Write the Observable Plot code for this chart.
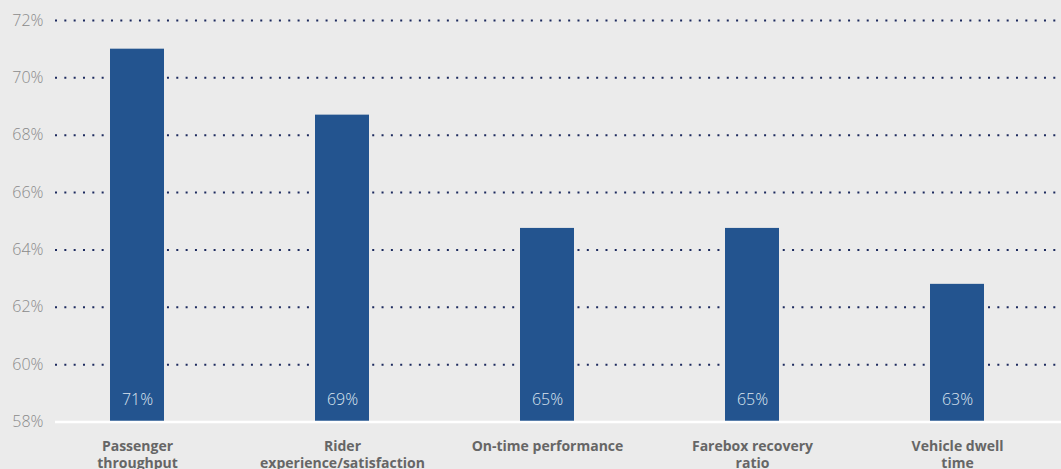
<!DOCTYPE html>
<html><head><meta charset="utf-8">
<script src="https://cdn.jsdelivr.net/npm/d3@7"></script>
<script src="https://cdn.jsdelivr.net/npm/@observablehq/plot@0.6"></script>
<style>body{margin:0;background:#ebebeb;overflow:hidden;}</style>
</head><body><div id="chart"></div>
<script>
const categories = ["Passenger\nthroughput", "Rider\nexperience/satisfaction", "On-time performance", "Farebox recovery\nratio", "Vehicle dwell\ntime"];
const values = [71, 68.7, 64.75, 64.75, 62.8];
const valueLabels = ["71%", "69%", "65%", "65%", "63%"];
const yTicks = [58, 60, 62, 64, 66, 68, 70, 72];
const gridTicks = [60, 62, 64, 66, 68, 70, 72];

const data = categories.map((c, i) => ({category: c, value: values[i], label: valueLabels[i]}));

const chart = Plot.plot({
  width: 1061, height: 469,
  marginTop: 20, marginBottom: 47.5, marginLeft: 55, marginRight: 0,
  style: {background: "#ebebeb", fontFamily: "'Open Sans', sans-serif"},
  x: {domain: categories, paddingInner: 0.7375, paddingOuter: 0.314, align: 0.418},
  y: {domain: [58, 72]},
  marks: [
    Plot.ruleY(gridTicks, {stroke: "#1c2a5e", strokeWidth: 2, strokeDasharray: "2,7.33"}),
    Plot.barY(data, {x: "category", y1: 58, y2: "value", fill: "#23548f"}),
    Plot.ruleY([58], {stroke: "#ffffff", strokeWidth: 2.5}),
    Plot.text(data, {x: "category", y: 58, dy: -22, text: "label", fill: "#dce5f0", fontSize: 16, fontWeight: 300}),
    Plot.axisY(yTicks, {tickSize: 0, tickPadding: 12, tickFormat: d => d + "%", fontSize: 16, fontWeight: 300, fill: "#8a8a8a", label: null}),
    Plot.axisX({tickSize: 0, tickPadding: 17, fontSize: 14, fontWeight: 700, lineHeight: 1.2, fill: "#666666", label: null})
  ]
});
document.getElementById("chart").append(chart);
</script>
</body></html>
